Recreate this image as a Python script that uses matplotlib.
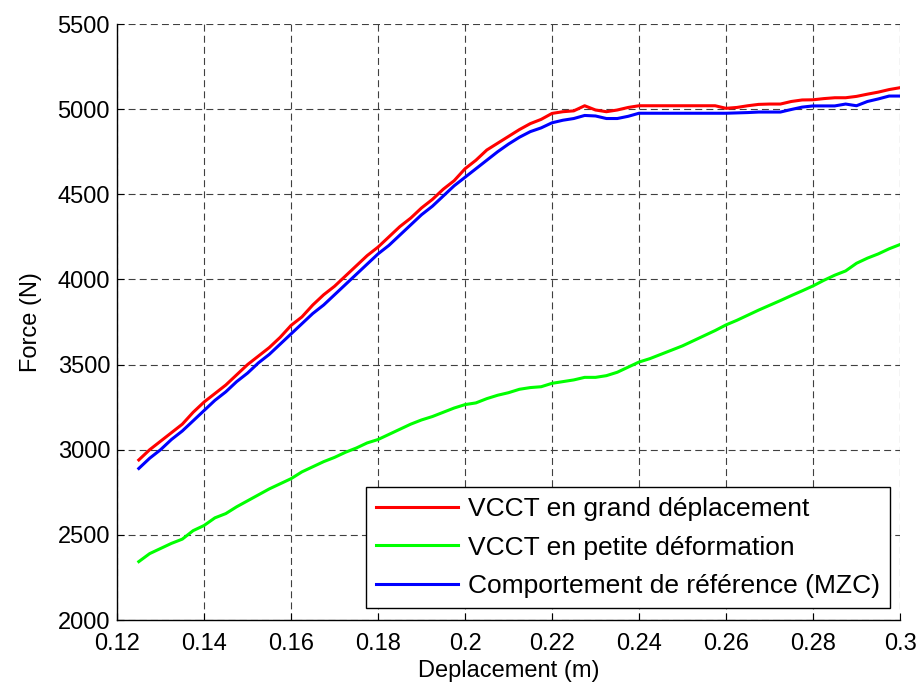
import matplotlib
matplotlib.use("Agg")
import matplotlib.pyplot as plt

# Deplacement (m), un point tous les 0.0025 m
deplacement = [0.125 + 0.0025 * i for i in range(71)]

# VCCT en grand deplacement
force_grand = [2940, 3000, 3050, 3100, 3150, 3220, 3280, 3330, 3380, 3440,
               3500, 3550, 3600, 3660, 3730, 3780, 3850, 3910, 3960, 4020,
               4080, 4140, 4190, 4250, 4310, 4360, 4420, 4470, 4530, 4580,
               4650, 4700, 4760, 4800, 4840, 4880, 4915, 4940, 4975, 4985,
               4990, 5020, 4995, 4985, 4995, 5010, 5020, 5020, 5020, 5020,
               5020, 5020, 5020, 5020, 5005, 5010, 5020, 5028, 5030, 5030,
               5045, 5054, 5055, 5062, 5067, 5067, 5075, 5088, 5100, 5115,
               5126]

# VCCT en petite deformation
force_petite = [2343, 2390, 2420, 2450, 2475, 2525, 2555, 2600, 2625, 2665,
                2700, 2735, 2770, 2800, 2830, 2870, 2900, 2930, 2955, 2985,
                3010, 3040, 3060, 3090, 3120, 3150, 3175, 3195, 3220, 3245,
                3265, 3275, 3300, 3320, 3335, 3355, 3365, 3370, 3390, 3400,
                3410, 3425, 3425, 3435, 3455, 3485, 3515, 3535, 3560, 3585,
                3610, 3640, 3670, 3700, 3733, 3760, 3790, 3820, 3848, 3876,
                3905, 3933, 3962, 3995, 4025, 4050, 4095, 4125, 4150, 4180,
                4205]

# Comportement de reference (MZC)
force_mzc = [2890, 2950, 3000, 3060, 3110, 3170, 3230, 3290, 3340, 3400,
             3450, 3510, 3560, 3620, 3680, 3740, 3800, 3850, 3910, 3970,
             4030, 4090, 4150, 4200, 4260, 4320, 4380, 4430, 4490, 4550,
             4600, 4650, 4700, 4750, 4795, 4835, 4868, 4890, 4920, 4935,
             4945, 4963, 4960, 4945, 4945, 4958, 4976, 4976, 4976, 4976,
             4976, 4976, 4976, 4976, 4976, 4978, 4980, 4983, 4983, 4983,
             4998, 5012, 5019, 5019, 5019, 5030, 5020, 5045, 5060, 5077,
             5077]

xticks = [0.12, 0.14, 0.16, 0.18, 0.2, 0.22, 0.24, 0.26, 0.28, 0.3]
xticklabels = ['0.12', '0.14', '0.16', '0.18', '0.2', '0.22', '0.24', '0.26', '0.28', '0.3']
yticks = [2000, 2500, 3000, 3500, 4000, 4500, 5000, 5500]

plt.rcParams['font.family'] = ['Liberation Sans', 'DejaVu Sans']
plt.rcParams['font.size'] = 17
plt.rcParams['lines.scale_dashes'] = False

fig = plt.figure(figsize=(9.18, 6.88), dpi=100)
ax = fig.add_axes([0.1275, 0.0988, 0.8529, 0.8663])

ax.plot(deplacement, force_grand, color='#ff0000', lw=2.2, label='VCCT en grand déplacement')
ax.plot(deplacement, force_petite, color='#00ff00', lw=2.2, label='VCCT en petite déformation')
ax.plot(deplacement, force_mzc, color='#0000ff', lw=2.2, label='Comportement de référence (MZC)')

ax.set_xlim(0.12, 0.3)
ax.set_ylim(2000, 5500)
ax.set_xticks(xticks)
ax.set_xticklabels(xticklabels)
ax.set_yticks(yticks)
ax.tick_params(direction='in', length=5, width=0.8, colors='black')
ax.tick_params(axis='x', pad=9)
ax.tick_params(axis='y', pad=5)

ax.spines['top'].set_visible(False)
ax.spines['right'].set_visible(False)
ax.spines['left'].set_linewidth(1.0)
ax.spines['bottom'].set_linewidth(1.0)

ax.grid(True, color='#404040', linestyle=(0, (5, 3)), linewidth=0.8)
ax.set_axisbelow(True)

ax.set_xlabel('Deplacement (m)', labelpad=4)
ax.set_ylabel('Force (N)', labelpad=11)

leg = ax.legend(loc='lower right', bbox_to_anchor=(0.987, 0.02), borderaxespad=0,
                fancybox=False, framealpha=1, edgecolor='black', handlelength=3.1,
                handletextpad=0.36, labelspacing=0.55, borderpad=0.38, fontsize=19)
leg.get_frame().set_linewidth(1.0)

fig.savefig('out.png', dpi=100)
